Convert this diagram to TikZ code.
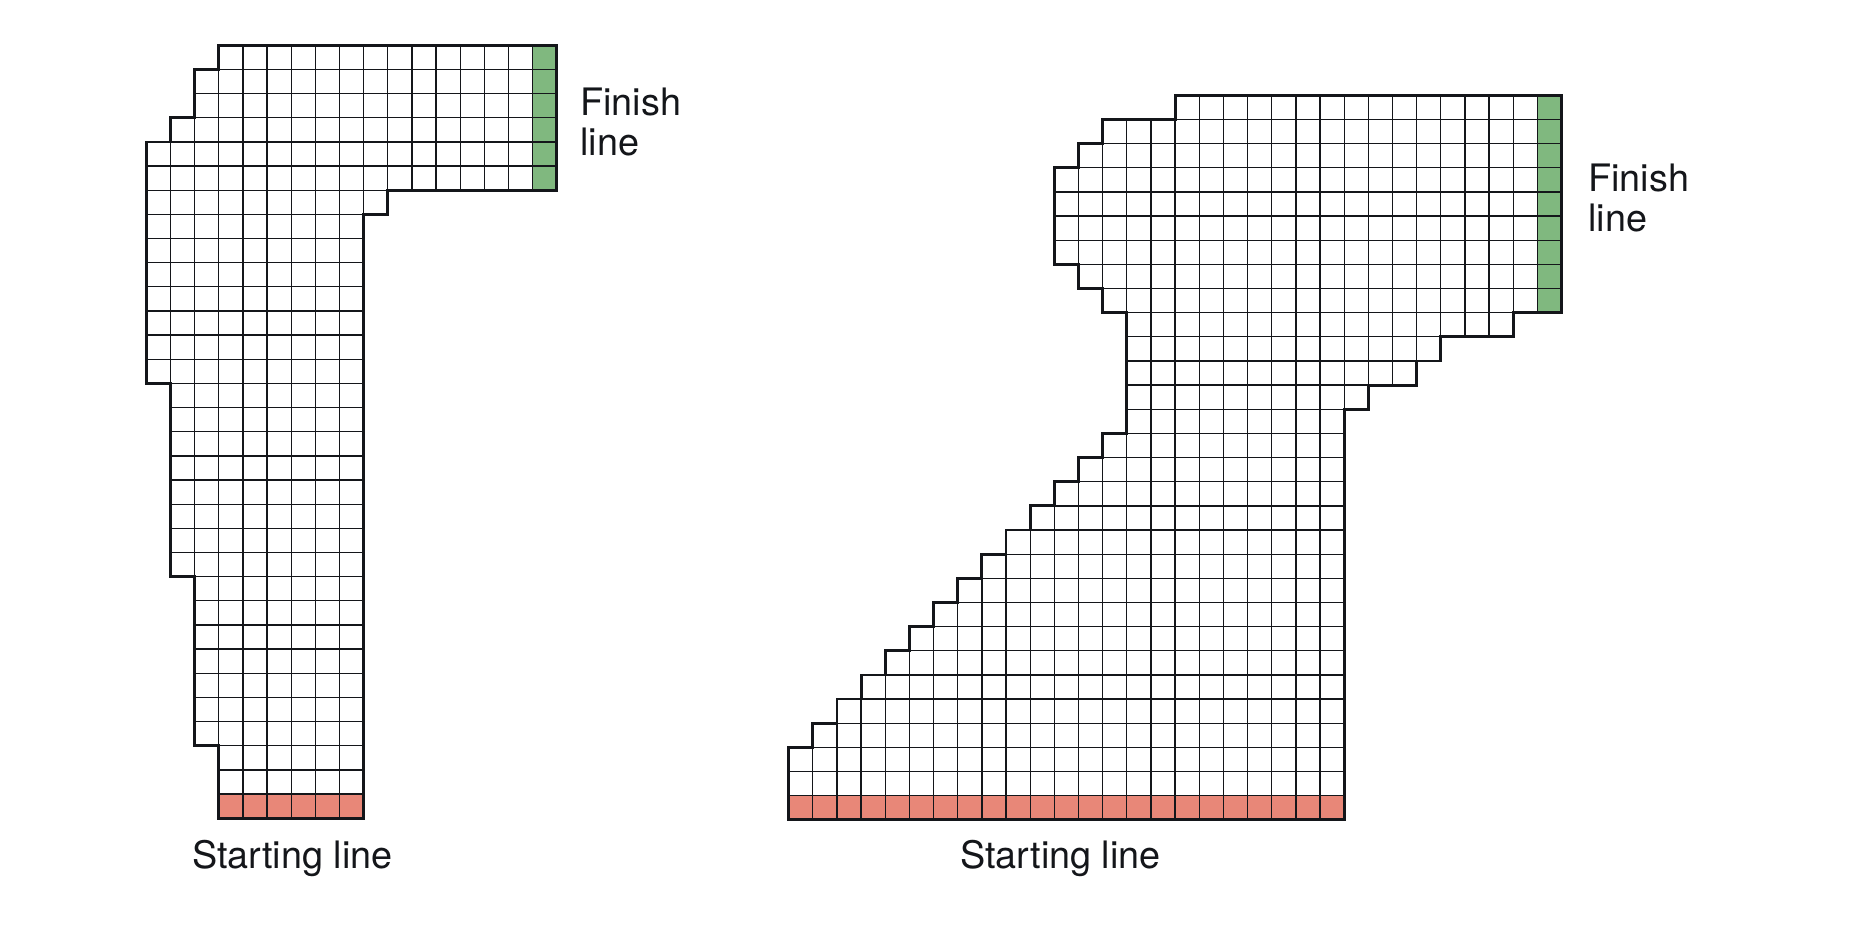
\documentclass[tikz,border=0pt]{standalone}
\usepackage{fontspec}
\setmainfont{TeX Gyre Heros}
\definecolor{fingreen}{RGB}{128,184,127}
\definecolor{startred}{RGB}{232,135,120}
\definecolor{gridink}{RGB}{20,22,26}
\begin{document}
\begin{tikzpicture}[x=24.15pt,y=-24.15pt,
  cellline/.style={draw=gridink, line width=1.3pt},
  outline/.style={draw=gridink, line width=2.8pt, line join=miter},
  finishcell/.style={fill=fingreen},
  startcell/.style={fill=startred},
  lbl/.style={font=\fontsize{37.8}{40}\selectfont, text=gridink, inner sep=0pt, anchor=base west}]
\useasboundingbox (0,0) rectangle (77.18,38.26);

% ---------- Track 1 (left) ----------
\begin{scope}[shift={(6.058,1.876)}]
  \fill[finishcell] (16,0) rectangle (17,6);
  \fill[startcell] (3,31) rectangle (9,32);
  \foreach \ra/\rb/\ca/\cb in {0/0/3/16, 1/2/2/16, 3/3/1/16, 4/5/0/16, 6/6/0/9, 7/13/0/8, 14/21/1/8, 22/28/2/8, 29/31/3/8}{
    \foreach \r in {\ra,...,\rb}{
      \foreach \c in {\ca,...,\cb}{
        \draw[cellline] (\c,\r) rectangle ++(1,1);
      }
    }
  }
  \draw[outline] (3,0) -- (17,0) -- (17,6) -- (10,6) -- (10,7) -- (9,7) -- (9,32) -- (3,32) -- (3,29) -- (2,29) -- (2,22) -- (1,22) -- (1,14) -- (0,14) -- (0,4) -- (1,4) -- (1,3) -- (2,3) -- (2,1) -- (3,1) -- cycle;
\end{scope}

% ---------- Track 2 (right) ----------
\begin{scope}[shift={(32.655,3.946)}]
  \fill[finishcell] (31,0) rectangle (32,9);
  \fill[startcell] (0,29) rectangle (23,30);
  \foreach \ra/\rb/\ca/\cb in {0/0/16/31, 1/1/13/31, 2/2/12/31, 3/6/11/31, 7/7/12/31, 8/8/13/31, 9/9/14/29, 10/10/14/26, 11/11/14/25, 12/12/14/23, 13/13/14/22, 28/29/0/22}{
    \foreach \r in {\ra,...,\rb}{
      \foreach \c in {\ca,...,\cb}{
        \draw[cellline] (\c,\r) rectangle ++(1,1);
      }
    }
  }
  \foreach \r [evaluate=\r as \ca using {int(27-\r)}] in {14,...,27}{
    \foreach \c in {\ca,...,22}{
      \draw[cellline] (\c,\r) rectangle ++(1,1);
    }
  }
  \draw[outline] (16,0) -- (32,0) -- (32,9) -- (30,9) -- (30,10) -- (27,10) -- (27,11) -- (26,11) -- (26,12) -- (24,12) -- (24,13) -- (23,13) -- (23,30) -- (0,30)
    -- (0,27) -- (1,27) -- (1,26) -- (2,26) -- (2,25) -- (3,25) -- (3,24) -- (4,24) -- (4,23) -- (5,23) -- (5,22) -- (6,22) -- (6,21) -- (7,21) -- (7,20) -- (8,20) -- (8,19) -- (9,19) -- (9,18) -- (10,18) -- (10,17) -- (11,17) -- (11,16) -- (12,16) -- (12,15) -- (13,15) -- (13,14) -- (14,14)
    -- (14,9) -- (13,9) -- (13,8) -- (12,8) -- (12,7) -- (11,7) -- (11,3) -- (12,3) -- (12,2) -- (13,2) -- (13,1) -- (16,1) -- cycle;
\end{scope}

% ---------- Labels ----------
\node[lbl] (finishL1) at ({580/24.15},{115.7/24.15}) {Finish};
\node[lbl] (finishL2) at ({580/24.15},{155.5/24.15}) {line};
\node[lbl] (finishR1) at ({1588/24.15},{191.4/24.15}) {Finish};
\node[lbl] (finishR2) at ({1588/24.15},{231.2/24.15}) {line};
\node[lbl] (startL) at ({192/24.15},{868.3/24.15}) {Starting line};
\node[lbl] (startR) at ({960/24.15},{868.3/24.15}) {Starting line};
\end{tikzpicture}
\end{document}
